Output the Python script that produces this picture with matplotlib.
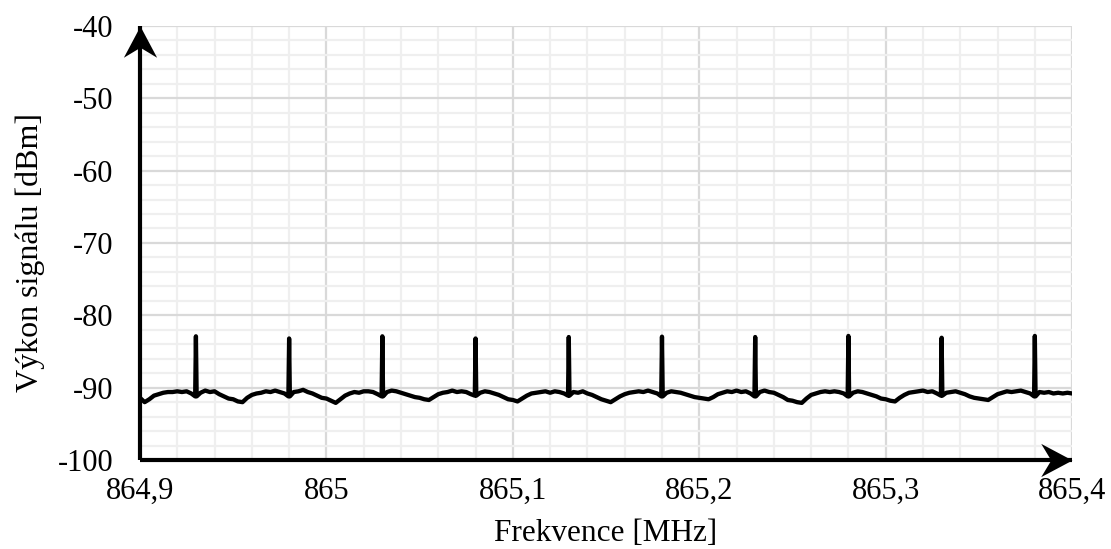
import numpy as np
import matplotlib
matplotlib.use("Agg")
import matplotlib.pyplot as plt
from matplotlib.path import Path
from matplotlib.ticker import MultipleLocator, FixedLocator, FixedFormatter

plt.rcParams['font.family'] = ['Liberation Serif', 'DejaVu Serif']

# noise floor, sampled every 0.0025 MHz from 864.9 to 865.4
f_start, f_step = 864.9, 0.0025
base_dbm = [
    -91.4, -92.0, -91.6, -91.1, -90.9, -90.7, -90.6, -90.6, -90.5, -90.6, -90.5, -90.8, -91.2, -90.7, -90.4, -90.6, -90.5, -90.9, -91.2, -91.5,
    -91.6, -91.9, -92.0, -91.4, -91.0, -90.8, -90.7, -90.5, -90.6, -90.4, -90.6, -90.8, -91.2, -90.6, -90.5, -90.3, -90.6, -90.8, -91.1, -91.4,
    -91.5, -91.8, -92.1, -91.6, -91.1, -90.8, -90.6, -90.7, -90.5, -90.5, -90.6, -90.9, -91.2, -90.6, -90.4, -90.5, -90.7, -90.9, -91.1, -91.3,
    -91.4, -91.6, -91.7, -91.3, -90.9, -90.7, -90.6, -90.4, -90.6, -90.5, -90.6, -90.9, -91.1, -90.7, -90.5, -90.6, -90.8, -91.0, -91.3, -91.6,
    -91.7, -91.9, -91.5, -91.1, -90.8, -90.7, -90.6, -90.5, -90.7, -90.5, -90.6, -90.8, -91.1, -90.6, -90.7, -90.5, -90.8, -91.0, -91.3, -91.6,
    -91.8, -92.0, -91.6, -91.2, -90.9, -90.7, -90.6, -90.5, -90.6, -90.4, -90.6, -90.8, -91.2, -90.7, -90.5, -90.6, -90.7, -90.9, -91.1, -91.3,
    -91.4, -91.5, -91.6, -91.3, -90.9, -90.7, -90.5, -90.6, -90.4, -90.6, -90.5, -90.8, -91.2, -90.6, -90.4, -90.6, -90.7, -91.0, -91.3, -91.7,
    -91.8, -92.0, -92.1, -91.5, -91.0, -90.8, -90.6, -90.5, -90.6, -90.5, -90.6, -90.8, -91.2, -90.7, -90.5, -90.6, -90.8, -91.0, -91.2, -91.5,
    -91.6, -91.8, -91.9, -91.4, -91.0, -90.7, -90.6, -90.5, -90.4, -90.6, -90.5, -90.8, -91.1, -90.7, -90.6, -90.5, -90.7, -90.9, -91.2, -91.4,
    -91.5, -91.6, -91.7, -91.3, -90.9, -90.7, -90.5, -90.6, -90.5, -90.4, -90.6, -90.8, -91.2, -90.6, -90.7, -90.6, -90.8, -90.7, -90.8, -90.7,
    -90.8,
]

# carrier spikes
peak_mhz = [864.93, 864.98, 865.03, 865.08, 865.13, 865.18, 865.23, 865.28, 865.33, 865.38]
peak_dbm = [-82.9, -83.2, -82.9, -83.2, -83.0, -82.95, -83.0, -82.85, -83.1, -82.85]

x_ticks = [864.9, 865.0, 865.1, 865.2, 865.3, 865.4]
x_labels = ["864,9", "865", "865,1", "865,2", "865,3", "865,4"]
y_ticks = [-100, -90, -80, -70, -60, -50, -40]
y_labels = ["-100", "-90", "-80", "-70", "-60", "-50", "-40"]

# merge floor and spikes into one trace
base_mhz = f_start + f_step * np.arange(len(base_dbm))
fx, fy = [], []
for f, v in zip(base_mhz, base_dbm):
    hit = [i for i, p in enumerate(peak_mhz) if abs(p - f) < 1e-6]
    if hit:
        fx += [f - 0.0004, f, f + 0.0004]
        fy += [v, peak_dbm[hit[0]], v]
    else:
        fx.append(f)
        fy.append(v)

fig = plt.figure(figsize=(11.11, 5.49), dpi=100)
ax = fig.add_axes([0.126, 0.162, 0.839, 0.791])

ax.plot(fx, fy, color="black", lw=3.1, solid_joinstyle="round", zorder=3)

ax.set_xlim(864.9, 865.4)
ax.set_ylim(-100, -40)
ax.xaxis.set_major_locator(FixedLocator(x_ticks))
ax.xaxis.set_major_formatter(FixedFormatter(x_labels))
ax.yaxis.set_major_locator(FixedLocator(y_ticks))
ax.yaxis.set_major_formatter(FixedFormatter(y_labels))
ax.xaxis.set_minor_locator(MultipleLocator(0.02))
ax.yaxis.set_minor_locator(MultipleLocator(2))
ax.grid(which="major", color="#d9d9d9", lw=1.6, zorder=1)
ax.grid(which="minor", color="#efefef", lw=1.6, zorder=0)
ax.set_axisbelow(True)
ax.tick_params(which="both", length=0, labelsize=22)
ax.tick_params(axis="y", pad=19)
ax.tick_params(axis="x", pad=12)
for s in ax.spines.values():
    s.set_visible(False)

# axis lines with stealth-style arrowheads (tip at the origin of the path)
ax.plot([0, 0], [0, 1], transform=ax.transAxes, color="black", lw=3,
        clip_on=False, zorder=4, solid_capstyle="butt")
ax.plot([0, 1], [0, 0], transform=ax.transAxes, color="black", lw=3,
        clip_on=False, zorder=4, solid_capstyle="butt")
head_right = Path([(0, 0), (-25, 13.3), (-17, 0), (-25, -13.3), (0, 0)],
                  [Path.MOVETO, Path.LINETO, Path.LINETO, Path.LINETO, Path.CLOSEPOLY])
head_up = Path([(0, 0), (13.3, -25), (0, -17), (-13.3, -25), (0, 0)],
               [Path.MOVETO, Path.LINETO, Path.LINETO, Path.LINETO, Path.CLOSEPOLY])
ax.plot([1], [0], transform=ax.transAxes, marker=head_right, ms=45,
        color="black", mew=0, clip_on=False, zorder=5)
ax.plot([0], [1], transform=ax.transAxes, marker=head_up, ms=45,
        color="black", mew=0, clip_on=False, zorder=5)

fig.text(606 / 1111, 1 - 541 / 549, "Frekvence [MHz]", fontsize=22.5,
         ha="center", va="baseline")
fig.text(30 / 1111, 1 - 252 / 549, "Výkon signálu [dBm]", fontsize=23,
         ha="center", va="center", rotation=90)

fig.savefig("out.png", dpi=100)
